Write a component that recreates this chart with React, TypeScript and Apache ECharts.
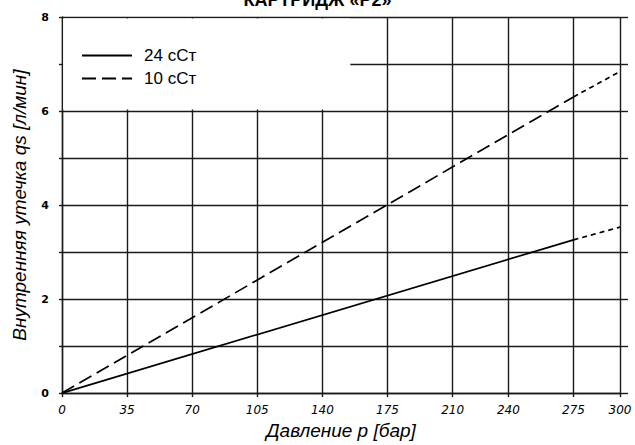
import React, { useEffect, useRef } from "react";
import * as echarts from "echarts";

const titleText = "КАРТРИДЖ «P2»";
const xName = "Давление p [бар]";
const yName = "Внутренняя утечка qs [л/мин]";
const xTicks = [0, 35, 70, 105, 140, 175, 210, 240, 275, 300];
const yMin = 0;
const yMax = 8;
const yLabelStep = 2;
const seriesNames = ["24 сСт", "10 сСт"];
const oil24Main = [[0, 0], [275, 3.26]];
const oil24Ext = [[275, 3.26], [300, 3.53]];
const oil10Main = [[0, 0], [275, 6.3]];
const oil10Ext = [[275, 6.3], [300, 6.84]];
const legendMask = [[0.6, 6.03], [155, 7.97]];

export default function App() {
  const ref = useRef<HTMLDivElement>(null);
  useEffect(() => {
    document.body.style.margin = "0";
    const chart = echarts.init(ref.current!, null, { renderer: "svg" });
    const gridColor = "#1a1a1a";
    const tickFont = { fontFamily: "DejaVu Sans", fontStyle: "italic" as const, fontSize: 12, color: "#000" };
    chart.setOption({
      animation: false,
      backgroundColor: "#fff",
      textStyle: { fontFamily: "Liberation Sans" },
      title: {
        text: titleText,
        left: "center",
        top: -9,
        padding: 0,
        textStyle: { fontFamily: "Liberation Sans", fontWeight: "bold", fontSize: 18, color: "#000" },
      },
      legend: {
        data: seriesNames,
        orient: "vertical",
        left: 81,
        top: 47,
        padding: 0,
        itemWidth: 50,
        itemHeight: 14,
        itemGap: 6,
        itemStyle: { opacity: 0 },
        textStyle: { fontFamily: "Liberation Sans", fontSize: 17, color: "#000", padding: [0, 0, 0, 7] },
      },
      grid: { left: 62, right: 15, top: 17, bottom: 49 },
      xAxis: {
        type: "value",
        min: xTicks[0],
        max: xTicks[xTicks.length - 1],
        name: xName,
        nameLocation: "middle",
        nameGap: 27,
        nameTextStyle: { fontFamily: "Liberation Sans", fontStyle: "italic", fontSize: 19, color: "#000" },
        axisLine: { show: true, onZero: false, lineStyle: { color: gridColor, width: 1.4 } },
        axisTick: { show: true, customValues: xTicks, length: 4, lineStyle: { color: gridColor, width: 1.4 } },
        axisLabel: { customValues: xTicks, margin: 11, ...tickFont },
        splitLine: { show: true, lineStyle: { color: gridColor, width: 1.4 } },
      },
      yAxis: [
        {
          type: "value",
          min: yMin,
          max: yMax,
          interval: 1,
          name: yName,
          nameLocation: "middle",
          nameGap: 33,
          nameTextStyle: { fontFamily: "Liberation Sans", fontStyle: "italic", fontSize: 19, color: "#000" },
          axisLine: { show: true, lineStyle: { color: gridColor, width: 1.4 } },
          axisTick: { show: true, length: 3, lineStyle: { color: gridColor, width: 1.4 } },
          axisLabel: {
            margin: 13,
            fontFamily: "DejaVu Sans",
            fontSize: 11,
            fontWeight: "bold",
            color: "#000",
            padding: [0, 0, 3, 0],
            formatter: (v: number) => (v % yLabelStep === 0 ? String(v) : ""),
          },
          splitLine: { show: true, lineStyle: { color: gridColor, width: 1.4 } },
        },
        {
          type: "value",
          position: "right",
          min: yMin,
          max: yMax,
          interval: 1,
          axisLine: { show: false },
          axisTick: { show: true, length: 8, lineStyle: { color: gridColor, width: 1.4 } },
          axisLabel: { show: false },
          splitLine: { show: false },
        },
      ],
      series: [
        {
          name: seriesNames[0],
          type: "line",
          data: oil24Main,
          symbol: "none",
          lineStyle: { color: "#000", width: 1.7, type: "solid" },
          itemStyle: { color: "#000" },
          z: 3,
          markArea: {
            silent: true,
            itemStyle: { color: "#fff", borderWidth: 0 },
            data: [[{ coord: legendMask[0] }, { coord: legendMask[1] }]],
          },
        },
        {
          name: "24ext",
          type: "line",
          data: oil24Ext,
          symbol: "none",
          lineStyle: { color: "#000", width: 1.7, type: [5, 4] },
          z: 3,
        },
        {
          name: seriesNames[1],
          type: "line",
          data: oil10Main,
          symbol: "none",
          lineStyle: { color: "#000", width: 1.7, type: [14, 6] },
          itemStyle: { color: "#000" },
          z: 3,
        },
        {
          name: "10ext",
          type: "line",
          data: oil10Ext,
          symbol: "none",
          lineStyle: { color: "#000", width: 1.7, type: [5, 4] },
          z: 3,
        },
      ],
    });
    return () => chart.dispose();
  }, []);
  return <div ref={ref} style={{ position: "fixed", left: 0, top: 0, width: 635, height: 445 }} />;
}
